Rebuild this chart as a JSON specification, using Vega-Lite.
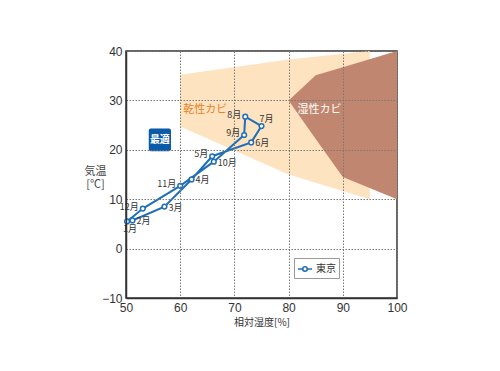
{
  "$schema": "https://vega.github.io/schema/vega-lite/v6.json",
  "width": 271,
  "height": 247,
  "autosize": "none",
  "padding": {"left": 126, "top": 51, "right": 103, "bottom": 73},
  "background": "white",
  "config": {"view": {"stroke": "#333", "strokeWidth": 1.5}, "font": "Noto Sans CJK JP"},
  "datasets": {
    "dry": [
      {"rh": 60, "top": 35.2, "bottom": 24.7},
      {"rh": 80, "top": 38.3, "bottom": 15},
      {"rh": 95, "top": 40, "bottom": 10}
    ],
    "wet": [
      {"rh": 80, "top": 30, "bottom": 30},
      {"rh": 85, "top": 35.1, "bottom": 22.2},
      {"rh": 90, "top": 36.7, "bottom": 14.5},
      {"rh": 100, "top": 40, "bottom": 10}
    ],
    "tokyo": [
      {"month": "1月", "rh": 50.2, "temp": 5.5},
      {"month": "2月", "rh": 51.2, "temp": 5.7},
      {"month": "3月", "rh": 57.1, "temp": 8.5},
      {"month": "4月", "rh": 62.1, "temp": 14.0},
      {"month": "5月", "rh": 65.9, "temp": 18.7},
      {"month": "6月", "rh": 73.1, "temp": 21.5},
      {"month": "7月", "rh": 75.0, "temp": 24.8},
      {"month": "8月", "rh": 72.0, "temp": 26.7},
      {"month": "9月", "rh": 71.8, "temp": 23.0},
      {"month": "10月", "rh": 66.2, "temp": 17.6},
      {"month": "11月", "rh": 60.0, "temp": 12.7},
      {"month": "12月", "rh": 53.1, "temp": 8.1}
    ],
    "path": [
      {"seq": 1, "rh": 50.2, "temp": 5.5},
      {"seq": 2, "rh": 51.2, "temp": 5.7},
      {"seq": 3, "rh": 57.1, "temp": 8.5},
      {"seq": 4, "rh": 62.1, "temp": 14.0},
      {"seq": 5, "rh": 65.9, "temp": 18.7},
      {"seq": 6, "rh": 73.1, "temp": 21.5},
      {"seq": 7, "rh": 75.0, "temp": 24.8},
      {"seq": 8, "rh": 72.0, "temp": 26.7},
      {"seq": 9, "rh": 71.8, "temp": 23.0},
      {"seq": 10, "rh": 66.2, "temp": 17.6},
      {"seq": 11, "rh": 60.0, "temp": 12.7},
      {"seq": 12, "rh": 53.1, "temp": 8.1},
      {"seq": 13, "rh": 50.2, "temp": 5.5}
    ],
    "box": [{"x1": 54.2, "x2": 58.3, "y1": 19.7, "y2": 24.3}],
    "notes": [
      {"label": "乾性カビ", "rh": 64.6, "temp": 28.0, "kind": "dry"},
      {"label": "湿性カビ", "rh": 85.7, "temp": 28.0, "kind": "wet"},
      {"label": "最適", "rh": 56.25, "temp": 22.0, "kind": "opt"}
    ]
  },
  "layer": [
    {
      "data": {"name": "dry"},
      "mark": {"type": "area", "color": "#fde3c0", "opacity": 1},
      "encoding": {
        "x": {
          "field": "rh", "type": "quantitative",
          "scale": {"domain": [50, 100], "nice": false, "zero": false},
          "axis": {
            "title": "相対湿度[%]", "values": [50, 60, 70, 80, 90, 100],
            "grid": true, "gridColor": "#777", "gridDash": [1.5, 1.5], "gridWidth": 1,
            "ticks": false, "domainColor": "#333", "domainWidth": 1.5,
            "labelFont": "Liberation Sans", "labelFontSize": 12, "labelColor": "#333",
            "labelPadding": 4, "labelFlush": false,
            "titleFont": "Noto Sans CJK JP", "titleFontSize": 10, "titleFontWeight": "normal",
            "titleColor": "#333", "titlePadding": 4, "zindex": 1
          }
        },
        "y": {
          "field": "top", "type": "quantitative",
          "scale": {"domain": [-10, 40], "nice": false, "zero": false},
          "axis": {
            "title": ["気温", "[℃]"], "values": [-10, 0, 10, 20, 30, 40],
            "grid": true, "gridColor": "#777", "gridDash": [1.5, 1.5], "gridWidth": 1,
            "ticks": false, "domainColor": "#333", "domainWidth": 1.5,
            "labelFont": "Liberation Sans", "labelFontSize": 12, "labelColor": "#333",
            "labelPadding": 4, "labelFlush": false,
            "titleFont": "Noto Sans CJK JP", "titleFontSize": 11, "titleFontWeight": "normal",
            "titleColor": "#444", "titleAngle": 0, "titleAlign": "center",
            "titleBaseline": "alphabetic", "titleX": -31, "titleY": 123, "titleLineHeight": 13,
            "zindex": 1
          }
        },
        "y2": {"field": "bottom"}
      }
    },
    {
      "data": {"name": "wet"},
      "mark": {"type": "area", "color": "#c1866f", "opacity": 1},
      "encoding": {
        "x": {"field": "rh", "type": "quantitative"},
        "y": {"field": "top", "type": "quantitative"},
        "y2": {"field": "bottom"}
      }
    },
    {
      "data": {"name": "box"},
      "mark": {"type": "rect", "color": "#0b5aa7", "cornerRadius": 2},
      "encoding": {
        "x": {"field": "x1", "type": "quantitative"},
        "x2": {"field": "x2"},
        "y": {"field": "y1", "type": "quantitative"},
        "y2": {"field": "y2"}
      }
    },
    {
      "data": {"name": "notes"},
      "transform": [{"filter": "datum.kind == 'dry'"}],
      "mark": {"type": "text", "color": "#e8801e", "fontSize": 11, "font": "Noto Sans CJK JP", "fontWeight": "normal"},
      "encoding": {
        "x": {"field": "rh", "type": "quantitative"},
        "y": {"field": "temp", "type": "quantitative"},
        "text": {"field": "label"}
      }
    },
    {
      "data": {"name": "notes"},
      "transform": [{"filter": "datum.kind == 'wet'"}],
      "mark": {"type": "text", "color": "white", "fontSize": 11, "font": "Noto Sans CJK JP", "fontWeight": "normal"},
      "encoding": {
        "x": {"field": "rh", "type": "quantitative"},
        "y": {"field": "temp", "type": "quantitative"},
        "text": {"field": "label"}
      }
    },
    {
      "data": {"name": "notes"},
      "transform": [{"filter": "datum.kind == 'opt'"}],
      "mark": {"type": "text", "color": "white", "fontSize": 10, "font": "Noto Sans CJK JP", "fontWeight": "bold"},
      "encoding": {
        "x": {"field": "rh", "type": "quantitative"},
        "y": {"field": "temp", "type": "quantitative"},
        "text": {"field": "label"}
      }
    },
    {
      "data": {"name": "path"},
      "mark": {"type": "line", "strokeWidth": 2},
      "encoding": {
        "x": {"field": "rh", "type": "quantitative"},
        "y": {"field": "temp", "type": "quantitative"},
        "order": {"field": "seq", "type": "quantitative"},
        "color": {
          "datum": "東京", "type": "nominal",
          "scale": {"range": ["#1f6fb8"]},
          "legend": {
            "title": null, "orient": "none", "legendX": 168, "legendY": 207,
            "fillColor": "white", "strokeColor": "#999", "padding": 3,
            "symbolType": "M-1,0L-0.32,0M0.32,0L1,0M0.32,0A0.32,0.32,0,1,1,-0.32,0A0.32,0.32,0,1,1,0.32,0Z",
            "symbolSize": 196, "symbolOffset": 0,
            "labelFont": "Noto Sans CJK JP", "labelFontSize": 10, "labelColor": "#333", "labelOffset": 3,
            "encode": {"symbols": {"update": {"fill": {"value": "white"}, "stroke": {"value": "#1f6fb8"}, "strokeWidth": {"value": 1.6}, "opacity": {"value": 1}}}}
          }
        }
      }
    },
    {
      "data": {"name": "tokyo"},
      "mark": {"type": "point", "shape": "circle", "size": 22, "filled": true, "fill": "white", "stroke": "#1f6fb8", "strokeWidth": 1.5, "opacity": 1},
      "encoding": {
        "x": {"field": "rh", "type": "quantitative"},
        "y": {"field": "temp", "type": "quantitative"}
      }
    },
    {
      "data": {"name": "tokyo"},
      "transform": [{"filter": {"field": "month", "oneOf": ["2月", "3月", "4月", "6月", "10月"]}}],
      "mark": {"type": "text", "align": "left", "dx": 4, "dy": 1, "fontSize": 9, "color": "#333", "font": "Noto Sans CJK JP"},
      "encoding": {
        "x": {"field": "rh", "type": "quantitative"},
        "y": {"field": "temp", "type": "quantitative"},
        "text": {"field": "month"}
      }
    },
    {
      "data": {"name": "tokyo"},
      "transform": [{"filter": {"field": "month", "oneOf": ["5月", "8月", "9月", "11月", "12月"]}}],
      "mark": {"type": "text", "align": "right", "dx": -4, "dy": -2, "fontSize": 9, "color": "#333", "font": "Noto Sans CJK JP"},
      "encoding": {
        "x": {"field": "rh", "type": "quantitative"},
        "y": {"field": "temp", "type": "quantitative"},
        "text": {"field": "month"}
      }
    },
    {
      "data": {"name": "tokyo"},
      "transform": [{"filter": {"field": "month", "oneOf": ["1月"]}}],
      "mark": {"type": "text", "align": "center", "dx": 3, "dy": 8, "fontSize": 9, "color": "#333", "font": "Noto Sans CJK JP"},
      "encoding": {
        "x": {"field": "rh", "type": "quantitative"},
        "y": {"field": "temp", "type": "quantitative"},
        "text": {"field": "month"}
      }
    },
    {
      "data": {"name": "tokyo"},
      "transform": [{"filter": {"field": "month", "oneOf": ["7月"]}}],
      "mark": {"type": "text", "align": "left", "dx": -2, "dy": -7, "fontSize": 9, "color": "#333", "font": "Noto Sans CJK JP"},
      "encoding": {
        "x": {"field": "rh", "type": "quantitative"},
        "y": {"field": "temp", "type": "quantitative"},
        "text": {"field": "month"}
      }
    }
  ]
}
